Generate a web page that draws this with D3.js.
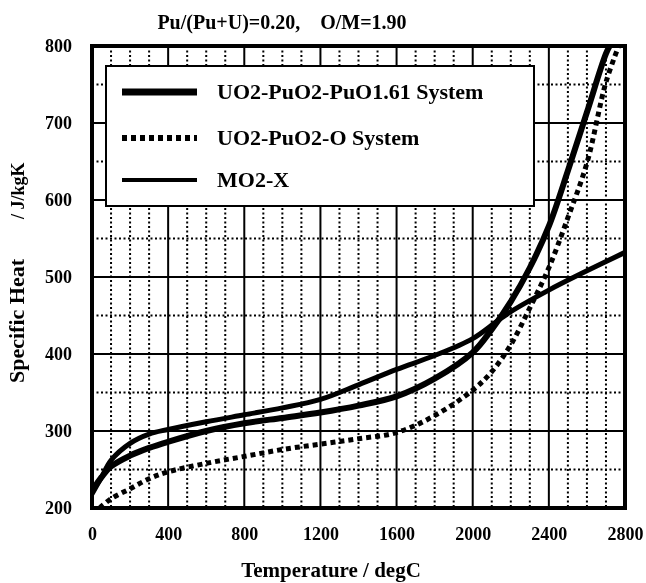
<!DOCTYPE html>
<html>
<head>
<meta charset="utf-8">
<script src="https://cdn.jsdelivr.net/npm/d3@7"></script>
<style>
  body { margin: 0; background: #fff; }
  svg { filter: grayscale(100%); }
  svg text { font-family: "Liberation Serif", "Times New Roman", serif; font-weight: bold; fill: #000; }
</style>
</head>
<body>
<svg class="svgWrapper" width="646" height="583"></svg>
<script>
// temperatures (degC) and specific heat (J/kgK)
const tempPuO161 = [0, 50, 100, 200, 300, 400, 600, 800, 1000, 1200, 1400, 1600, 1800, 2000, 2100, 2200, 2300, 2400, 2500, 2600, 2700, 2730];
const cpPuO161   = [222, 240, 254, 268, 278, 286, 300, 310, 317, 324, 333, 345, 368, 402, 432, 468, 512, 566, 638, 714, 790, 805];

const tempOSys = [40, 100, 200, 300, 400, 600, 800, 1000, 1200, 1400, 1600, 1800, 2000, 2100, 2200, 2300, 2400, 2500, 2600, 2700, 2775];
const cpOSys   = [200, 212, 225, 238, 247, 258, 267, 276, 283, 290, 298, 320, 353, 377, 412, 460, 512, 577, 648, 753, 805];

const tempMO2X = [0, 50, 100, 200, 300, 400, 600, 800, 1000, 1200, 1400, 1600, 1800, 2000, 2125, 2200, 2400, 2600, 2800];
const cpMO2X   = [218, 240, 262, 284, 296, 302, 312, 321, 330, 341, 360, 380, 398, 420, 442, 455, 483, 508, 532];

const xTicks = [0, 400, 800, 1200, 1600, 2000, 2400, 2800];
const yTicks = [200, 300, 400, 500, 600, 700, 800];
const legendLabels = ['UO2-PuO2-PuO1.61 System', 'UO2-PuO2-O System', 'MO2-X'];

const svgObj = d3.select('.svgWrapper');

const xScale = d3.scaleLinear().domain([0, 2800]).range([92, 625]);
const yScale = d3.scaleLinear().domain([200, 800]).range([508, 46]);

//clip so curves stop at the frame
svgObj.append('clipPath').attr('id', 'plotClip')
	.append('rect')
	.attr('x', xScale(0)).attr('y', yScale(800))
	.attr('width', xScale(2800) - xScale(0))
	.attr('height', yScale(200) - yScale(800));

const grid = svgObj.append('g');

//dotted minor grid
const minorX = d3.range(100, 2800, 100).filter(d => d % 400 !== 0);
const minorY = d3.range(250, 800, 100);
grid.selectAll('.minorX').data(minorX).enter().append('line')
	.attr('x1', d => xScale(d)).attr('x2', d => xScale(d))
	.attr('y1', yScale(800)).attr('y2', yScale(200))
	.attr('stroke', '#000').attr('stroke-width', 2).attr('stroke-dasharray', '2,2.5');
grid.selectAll('.minorY').data(minorY).enter().append('line')
	.attr('y1', d => yScale(d)).attr('y2', d => yScale(d))
	.attr('x1', xScale(0)).attr('x2', xScale(2800))
	.attr('stroke', '#000').attr('stroke-width', 2).attr('stroke-dasharray', '2,2.5');

//solid major grid
grid.selectAll('.majorX').data(xTicks.slice(1, -1)).enter().append('line')
	.attr('x1', d => xScale(d)).attr('x2', d => xScale(d))
	.attr('y1', yScale(800)).attr('y2', yScale(200))
	.attr('stroke', '#000').attr('stroke-width', 2);
grid.selectAll('.majorY').data(yTicks.slice(1, -1)).enter().append('line')
	.attr('y1', d => yScale(d)).attr('y2', d => yScale(d))
	.attr('x1', xScale(0)).attr('x2', xScale(2800))
	.attr('stroke', '#000').attr('stroke-width', 2);

//curves
const lineGen = d3.line()
	.x(d => xScale(d[0]))
	.y(d => yScale(d[1]))
	.curve(d3.curveCatmullRom.alpha(0.5));

const curves = svgObj.append('g').attr('clip-path', 'url(#plotClip)');
curves.append('path')
	.attr('d', lineGen(d3.zip(tempOSys, cpOSys)))
	.attr('fill', 'none').attr('stroke', '#000')
	.attr('stroke-width', 5).attr('stroke-dasharray', '5,4');
curves.append('path')
	.attr('d', lineGen(d3.zip(tempMO2X, cpMO2X)))
	.attr('fill', 'none').attr('stroke', '#000').attr('stroke-width', 5);
curves.append('path')
	.attr('d', lineGen(d3.zip(tempPuO161, cpPuO161)))
	.attr('fill', 'none').attr('stroke', '#000').attr('stroke-width', 6);

//frame
svgObj.append('rect')
	.attr('x', xScale(0)).attr('y', yScale(800))
	.attr('width', xScale(2800) - xScale(0))
	.attr('height', yScale(200) - yScale(800))
	.attr('fill', 'none').attr('stroke', '#000').attr('stroke-width', 4);

//tick labels via d3 axes, domain and tick marks hidden
const xAxis = svgObj.append('g')
	.attr('transform', `translate(0,${yScale(200)})`)
	.call(d3.axisBottom(xScale).tickValues(xTicks).tickFormat(d3.format('d')).tickSize(0).tickPadding(19));
const yAxis = svgObj.append('g')
	.attr('transform', `translate(${xScale(0)},0)`)
	.call(d3.axisLeft(yScale).tickValues(yTicks).tickFormat(d3.format('d')).tickSize(0).tickPadding(20));
[xAxis, yAxis].forEach(ax => {
	ax.select('.domain').remove();
	ax.selectAll('text')
		.attr('font-family', '"Liberation Serif", serif')
		.attr('font-weight', 'bold')
		.attr('font-size', 18)
		.attr('fill', '#000');
});

//legend
const legend = svgObj.append('g');
legend.append('rect')
	.attr('x', 106).attr('y', 66).attr('width', 428).attr('height', 140)
	.attr('fill', '#fff').attr('stroke', '#000').attr('stroke-width', 2);
const legendStyles = [
	{w: 7, dash: null},
	{w: 6, dash: '5,4'},
	{w: 4, dash: null}
];
const legendY = [92, 138, 180];
legendLabels.forEach((lab, i) => {
	legend.append('line')
		.attr('x1', 122).attr('x2', 197)
		.attr('y1', legendY[i]).attr('y2', legendY[i])
		.attr('stroke', '#000').attr('stroke-width', legendStyles[i].w)
		.attr('stroke-dasharray', legendStyles[i].dash);
	legend.append('text')
		.attr('x', 217).attr('y', legendY[i] + 7)
		.attr('font-size', 22)
		.text(lab);
});

//titles
svgObj.append('text')
	.attr('x', 282).attr('y', 29)
	.attr('text-anchor', 'middle')
	.attr('font-size', 20)
	.attr('xml:space', 'preserve')
	.text('Pu/(Pu+U)=0.20,    O/M=1.90');

svgObj.append('text')
	.attr('x', 331).attr('y', 577)
	.attr('text-anchor', 'middle')
	.attr('font-size', 21)
	.text('Temperature / degC');

const yTitle = svgObj.append('text')
	.attr('transform', 'translate(24,383) rotate(-90)')
	.attr('text-anchor', 'start')
	.attr('font-size', 22);
yTitle.append('tspan').text('Specific Heat');
yTitle.append('tspan').attr('dx', 40).attr('font-size', 18).text('/ J/kgK');
</script>
</body>
</html>
